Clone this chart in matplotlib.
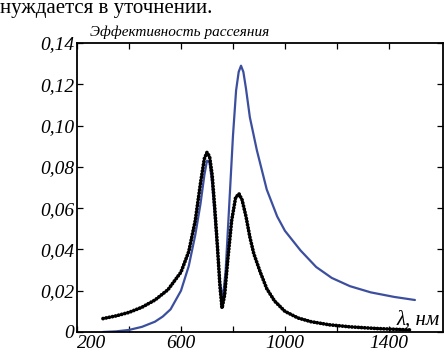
import matplotlib
matplotlib.use("Agg")
import matplotlib.pyplot as plt
from matplotlib import font_manager as fm

# ---- data ----
black_x = [300, 350, 400, 450, 500, 550, 600, 630, 655, 675, 690, 700, 710, 720, 730, 740, 750, 758,
           768, 780, 795, 810, 823, 835, 850, 865, 880, 905, 930, 960, 1000, 1050, 1100, 1170, 1250, 1350, 1480]
black_y = [0.0065, 0.0078, 0.0095, 0.0120, 0.0155, 0.0205, 0.0290, 0.0390, 0.0540, 0.0720, 0.0840, 0.0870, 0.0850,
           0.0760, 0.0600, 0.0420, 0.0220, 0.0116, 0.0180, 0.0350, 0.0540, 0.0650, 0.0670, 0.0640, 0.0560, 0.0460,
           0.0380, 0.0290, 0.0210, 0.0150, 0.0100, 0.0068, 0.0050, 0.0035, 0.0025, 0.0017, 0.0010]

blue_x = [300, 350, 400, 450, 500, 530, 560, 600, 630, 655, 675, 690, 700, 710, 720, 730, 740, 750, 761,
          772, 785, 800, 812, 822, 831, 840, 850, 865, 892, 930, 970, 1000, 1060, 1120, 1180, 1250, 1330, 1420, 1500]
blue_y = [0.0000, 0.0003, 0.0010, 0.0025, 0.0050, 0.0075, 0.0110, 0.0200, 0.0320, 0.0470, 0.0620, 0.0760, 0.0830,
          0.0820, 0.0720, 0.0560, 0.0400, 0.0240, 0.0160, 0.0300, 0.0600, 0.0950, 0.1170, 0.1260, 0.1290, 0.1260,
          0.1180, 0.1040, 0.0880, 0.0690, 0.0560, 0.0490, 0.0395, 0.0315, 0.0262, 0.0222, 0.0192, 0.0170, 0.0155]

x_ticks = [200, 400, 600, 800, 1000, 1200, 1400]
x_labels = ["200", "", "600", "", "1000", "", "1400"]
y_ticks = [0, 0.02, 0.04, 0.06, 0.08, 0.10, 0.12, 0.14]
y_labels = ["0", "0,02", "0,04", "0,06", "0,08", "0,10", "0,12", "0,14"]


def find_font(name, italic):
    for f in fm.fontManager.ttflist:
        if f.name == name and ((f.style == 'italic') == italic) and f.weight in (400, 'normal', 'regular'):
            return f.fname
    return None


it_file = find_font('Liberation Serif', True)
rg_file = find_font('Liberation Serif', False)


def fp(size, italic=True):
    fn = it_file if italic else rg_file
    if fn:
        return fm.FontProperties(fname=fn, size=size)
    return fm.FontProperties(family='serif', style='italic' if italic else 'normal', size=size)


fig = plt.figure(figsize=(4.44, 3.53), dpi=100)
ax = fig.add_axes([77/444, 21/353, (443-77)/444, (332-43)/353])

ax.plot(blue_x, blue_y, color='#3c4f9e', lw=1.6, solid_capstyle='round', solid_joinstyle='round')
ax.plot(black_x, black_y, color='black', lw=2.7, linestyle=(0, (0.05, 0.8)),
        dash_capstyle='round')

ax.set_xlim(200, 1608)
ax.set_ylim(0, 0.14)
ax.set_xticks(x_ticks)
ax.set_xticklabels(x_labels)
ax.set_yticks(y_ticks)
ax.set_yticklabels(y_labels)
for lab in ax.get_xticklabels() + ax.get_yticklabels():
    lab.set_fontproperties(fp(14))
ax.tick_params(direction='in', top=True, right=True, length=4.5, width=0.9, pad=2)
ax.get_xticklabels()[0].set_horizontalalignment('left')
for s in ax.spines.values():
    s.set_linewidth(1.3)

fig.text(90/444, 1 - 36/353, "Эффективность рассеяния", fontproperties=fp(11),
         ha='left', va='baseline')
fig.text(0, 1 - 13/353, "нуждается в уточнении.", fontproperties=fp(15, False),
         ha='left', va='baseline')
ax.text(0.99, 0.008, "λ, нм", transform=ax.transAxes, fontproperties=fp(15),
        ha='right', va='bottom')

fig.savefig("out.png", dpi=100)
